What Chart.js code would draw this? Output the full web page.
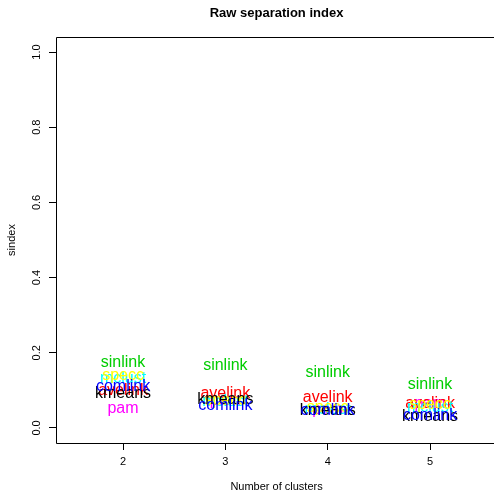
<!DOCTYPE html>
<html>
<head>
<meta charset="utf-8">
<script src="https://cdn.jsdelivr.net/npm/chart.js@4/dist/chart.umd.min.js"></script>
<style>
  html, body { margin: 0; padding: 0; background: #ffffff; }
  #wrap { width: 494px; height: 492px; position: relative; }
</style>
</head>
<body>
<div id="wrap"><canvas id="c" width="494" height="492"></canvas></div>
<script>
// Number of clusters on the x axis
const categories = [2, 3, 4, 5];
const yTicks = [0, 0.2, 0.4, 0.6, 0.8, 1.0];

// Raw separation index per clustering method
const kmeans  = [0.092, 0.076, 0.045, 0.029];
const avelink = [0.100, 0.091, 0.081, 0.066];
const sinlink = [0.173, 0.167, 0.147, 0.115];
const comlink = [0.110, 0.060, 0.046, 0.032];
const mclust  = [0.132, 0.071, 0.050, 0.055];
const pam     = [0.052, 0.073, 0.049, 0.064];
const specc   = [0.139, 0.073, 0.053, 0.062];

const methodNames = ['pam', 'avelink', 'sinlink', 'mclust', 'specc', 'kmeans', 'comlink'];
const methodValues = [pam, avelink, sinlink, mclust, specc, kmeans, comlink];
const methodColors = ['#FF00FF', '#FF0000', '#00CD00', '#00FFFF', '#FFFF00', '#000000', '#0000FF'];

const FONT = '"Liberation Sans", Arial, Helvetica, sans-serif';

const datasets = methodNames.map((name, i) => ({
  label: name,
  data: categories.map((k, j) => ({ x: k, y: methodValues[i][j] })),
  pointRadius: 0,
  pointHoverRadius: 0,
  showLine: false,
  color: methodColors[i]
}));

// Writes each method name at its point, plus box, axis labels and titles
const textMarks = {
  id: 'textMarks',
  afterDatasetsDraw(chart) {
    const ctx = chart.ctx;
    ctx.save();
    ctx.font = '16px ' + FONT;
    ctx.textAlign = 'center';
    ctx.textBaseline = 'middle';
    chart.data.datasets.forEach((ds, i) => {
      const meta = chart.getDatasetMeta(i);
      meta.data.forEach(pt => {
        ctx.fillStyle = ds.color;
        ctx.fillText(ds.label, pt.x, pt.y);
      });
    });
    ctx.restore();
  },
  afterDraw(chart) {
    const ctx = chart.ctx;
    const a = chart.chartArea;
    const xs = chart.scales.x, ys = chart.scales.y;
    ctx.save();
    // plot box
    ctx.strokeStyle = '#000';
    ctx.lineWidth = 1;
    ctx.beginPath();
    ctx.moveTo(a.right + 10, Math.round(a.top) + 0.5);
    ctx.lineTo(Math.round(a.left) + 0.5, Math.round(a.top) + 0.5);
    ctx.lineTo(Math.round(a.left) + 0.5, Math.round(a.bottom) + 0.5);
    ctx.lineTo(a.right + 10, Math.round(a.bottom) + 0.5);
    ctx.stroke();

    ctx.fillStyle = '#000';
    ctx.font = '11px ' + FONT;
    ctx.textAlign = 'center';
    ctx.textBaseline = 'middle';
    // x tick labels
    categories.forEach(k => {
      ctx.fillText(String(k), xs.getPixelForValue(k), 462);
    });
    // y tick labels, rotated like the axis
    yTicks.forEach(v => {
      ctx.save();
      ctx.translate(37, ys.getPixelForValue(v));
      ctx.rotate(-Math.PI / 2);
      ctx.fillText(v.toFixed(1), 0, 0);
      ctx.restore();
    });
    const midX = xs.getPixelForValue((categories[0] + categories[categories.length - 1]) / 2);
    ctx.fillText('Number of clusters', midX, 487);
    ctx.save();
    ctx.translate(12, ys.getPixelForValue(0.5));
    ctx.rotate(-Math.PI / 2);
    ctx.fillText('sindex', 0, 0);
    ctx.restore();
    ctx.font = 'bold 13px ' + FONT;
    ctx.fillText('Raw separation index', midX, 13);
    ctx.restore();
  }
};

new Chart(document.getElementById('c'), {
  type: 'scatter',
  data: { datasets },
  options: {
    responsive: false,
    animation: false,
    events: [],
    layout: { padding: { top: 37, left: 0, right: 0, bottom: 0 } },
    plugins: { legend: { display: false }, tooltip: { enabled: false }, title: { display: false } },
    scales: {
      x: {
        type: 'linear',
        min: 1.345,
        max: 5.625,
        afterBuildTicks(scale) { scale.ticks = categories.map(v => ({ value: v })); },
        afterFit(scale) { scale.height = 49; },
        ticks: { display: false },
        border: { display: false },
        grid: { drawOnChartArea: false, drawTicks: true, tickLength: 7, color: '#000', lineWidth: 1 }
      },
      y: {
        type: 'linear',
        min: -0.04,
        max: 1.04,
        afterBuildTicks(scale) { scale.ticks = yTicks.map(v => ({ value: v })); },
        afterFit(scale) { scale.width = 56; },
        ticks: { display: false },
        border: { display: false },
        grid: { drawOnChartArea: false, drawTicks: true, tickLength: 7, color: '#000', lineWidth: 1 }
      }
    }
  },
  plugins: [textMarks]
});
</script>
</body>
</html>
